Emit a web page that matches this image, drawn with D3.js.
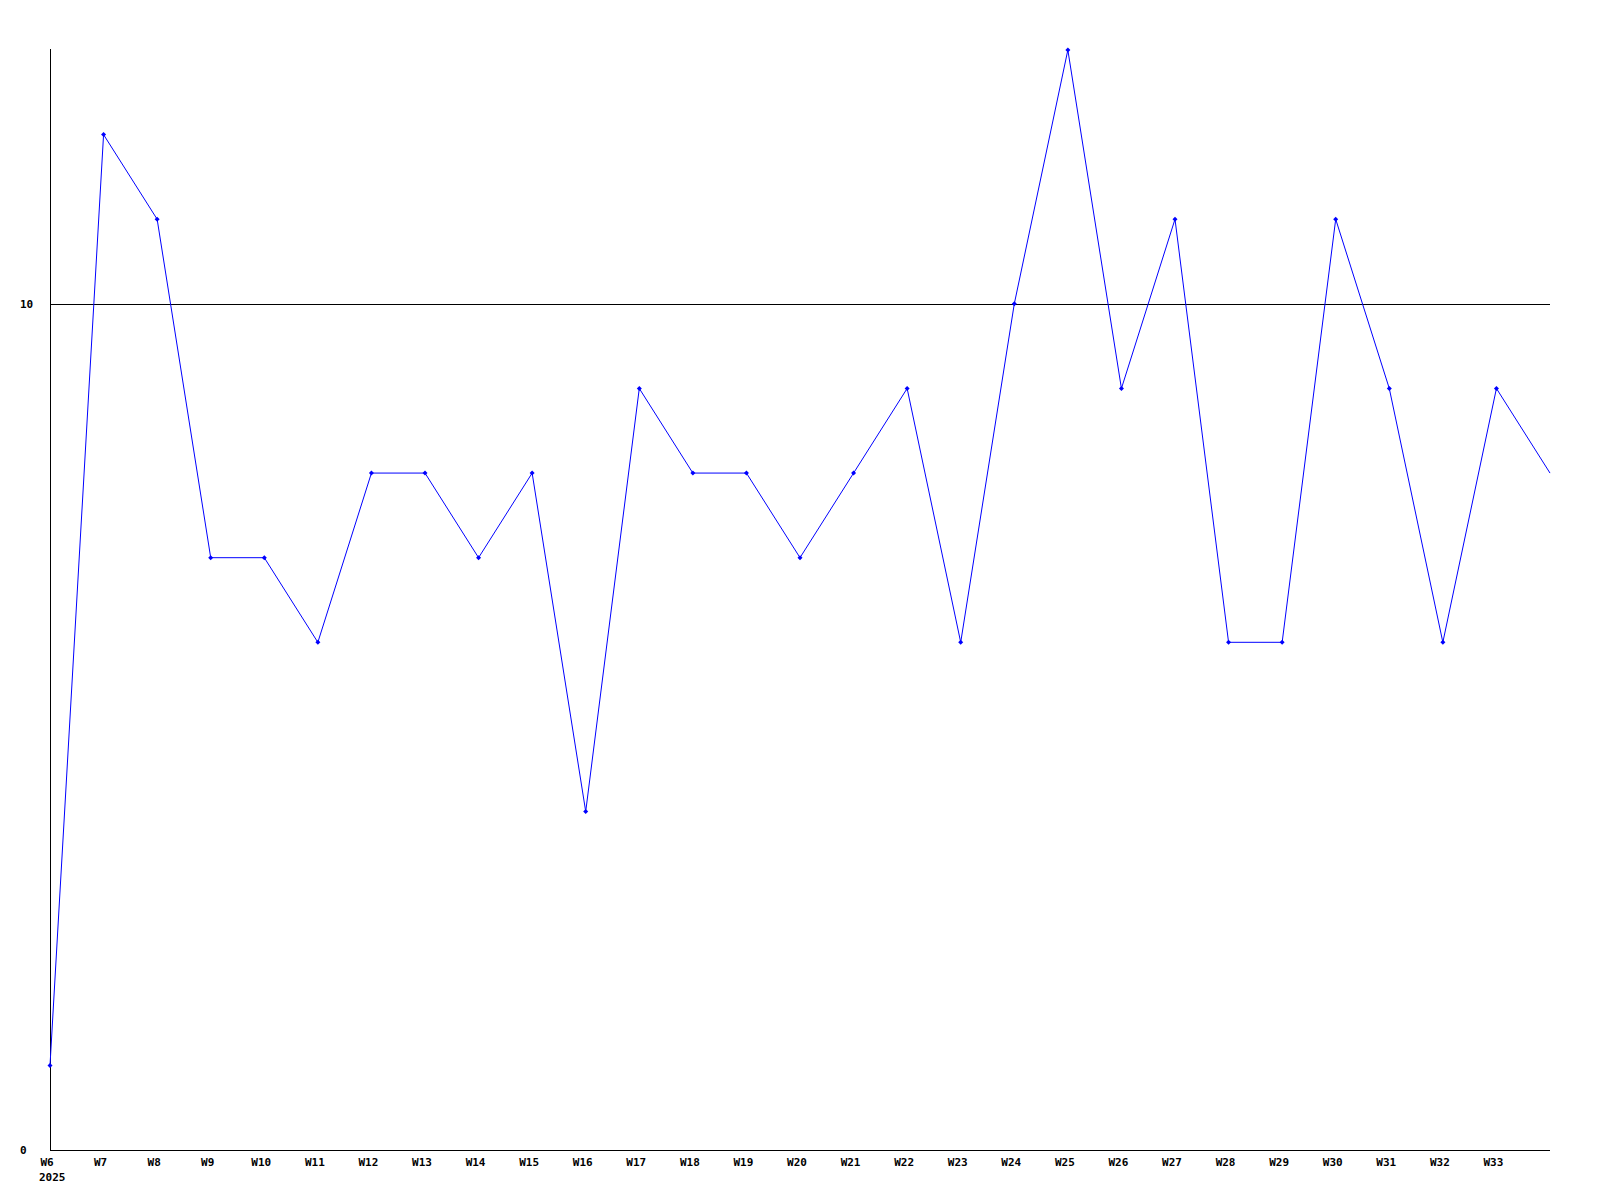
<!DOCTYPE html>
<html><head><meta charset="utf-8">
<script src="https://cdn.jsdelivr.net/npm/d3@7"></script>
<style>body{margin:0;background:#fff}svg{display:block}text{font-family:"DejaVu Sans Mono",monospace;font-weight:bold;font-size:11px}</style>
</head><body>
<script>
const weeks = ["W6","W7","W8","W9","W10","W11","W12","W13","W14","W15","W16","W17","W18","W19","W20","W21","W22","W23","W24","W25","W26","W27","W28","W29","W30","W31","W32","W33","W34"];
const values = [1,12,11,7,7,6,8,8,7,8,4,9,8,8,7,8,9,6,10,13,9,11,6,6,11,9,6,9,8];
const yTicks = [0,10];
const yearLabel = "2025";

const W=1600,H=1200;
const svg=d3.select("body").append("svg").attr("width",W).attr("height",H);
const x=d3.scaleLinear().domain([0,weeks.length-1]).range([50,1550]);
const y=d3.scaleLinear().domain([0,13]).range([1150,50]);

// gridline at 10
svg.append("line").attr("x1",50).attr("x2",1550).attr("y1",Math.round(y(10))+0.5).attr("y2",Math.round(y(10))+0.5).attr("stroke","#000").attr("shape-rendering","crispEdges");
// axes
svg.append("line").attr("x1",50.5).attr("x2",50.5).attr("y1",49).attr("y2",1150).attr("stroke","#000").attr("shape-rendering","crispEdges");
svg.append("line").attr("x1",50).attr("x2",1550).attr("y1",1150.5).attr("y2",1150.5).attr("stroke","#000").attr("shape-rendering","crispEdges");

svg.selectAll(".yl").data(yTicks).join("text").attr("x",20).attr("y",d=>y(d)+4).text(d=>d);

svg.selectAll(".xl").data(weeks.slice(0,-1)).join("text")
  .attr("x",(d,i)=>x(i)-3).attr("y",1166).attr("text-anchor","middle").text(d=>d);
svg.append("text").attr("x",39).attr("y",1181).text(yearLabel);

const line=d3.line().x((d,i)=>x(i)).y(d=>y(d));
svg.append("path").datum(values).attr("d",line).attr("fill","none").attr("stroke","#0000ff").attr("stroke-width",1);
svg.selectAll(".m").data(values.slice(0,-1)).join("path")
  .attr("transform",(d,i)=>`translate(${x(i)},${y(d)})`)
  .attr("d","M-2.5,0L0,-2.5L2.5,0L0,2.5Z").attr("fill","#0000ff");
</script>
</body></html>
